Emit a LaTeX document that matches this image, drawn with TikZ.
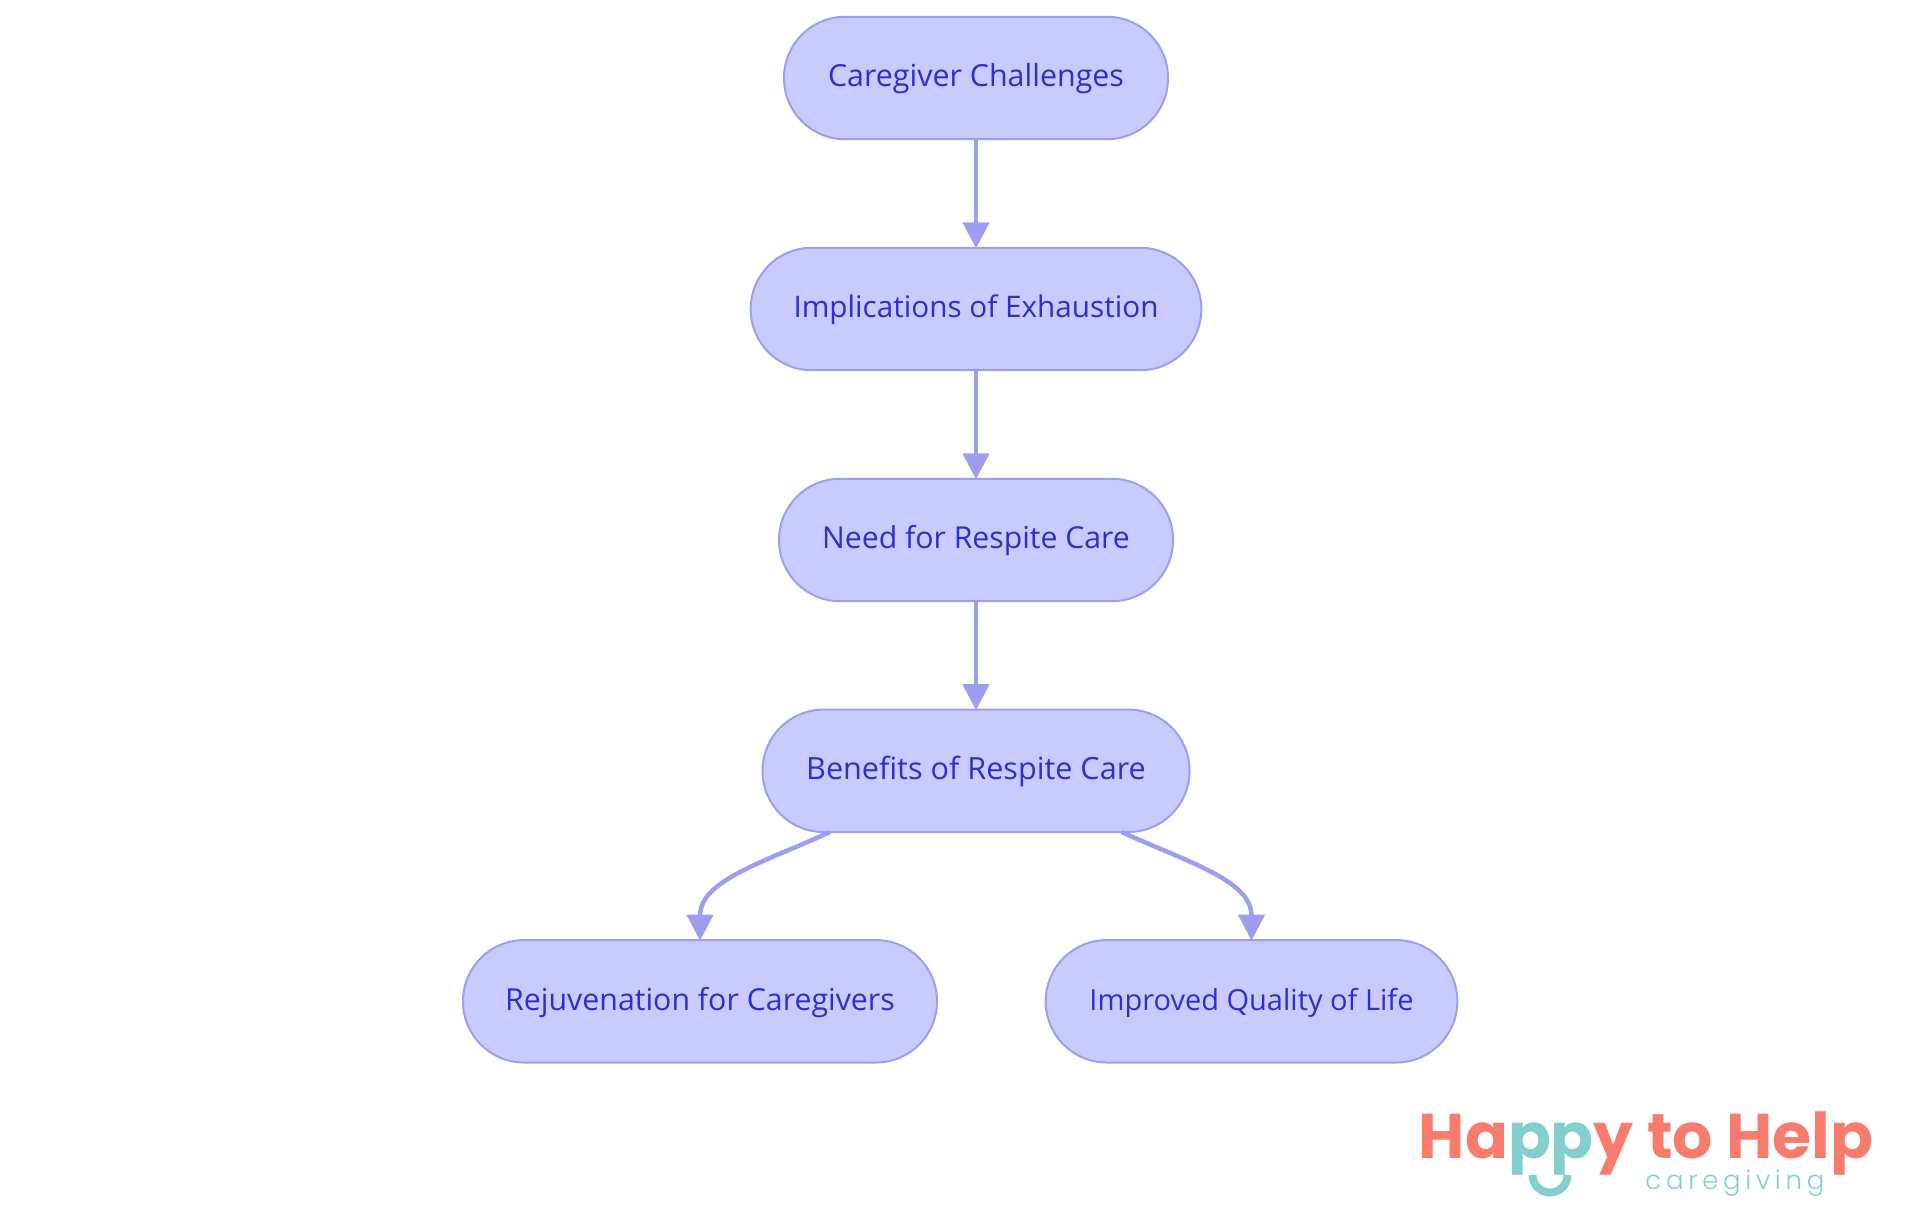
\documentclass[tikz,border=0pt]{standalone}
\usepackage{fontspec}
\setmainfont{Open Sans}
\newfontfamily\logofont{Poppins}[UprightFont=* Bold]
\newfontfamily\logolight{Poppins}[UprightFont=* Light,LetterSpace=18]
\usetikzlibrary{arrows.meta}
\definecolor{pillfill}{HTML}{C9CBFF}
\definecolor{pillline}{HTML}{9C9EF0}
\definecolor{pilltext}{HTML}{2E2ECF}
\definecolor{logocoral}{HTML}{F87C6E}
\definecolor{logoteal}{HTML}{83CFCD}
\tikzset{
  pill/.style 2 args={draw=pillline,fill=pillfill,line width=1pt,rounded corners=30.5pt,
    minimum height=61.2pt,minimum width=#1,inner sep=0pt,text=pilltext,
    font=\fontsize{#2}{16}\selectfont,text height=12.2pt,text depth=3.5pt},
  flow/.style={draw=pillline,line width=2.25pt,shorten >=-0.8pt,-{Triangle[length=13pt,width=13pt,fill=pillline]}}
}
\begin{document}
\begin{tikzpicture}[x=0.5pt,y=-0.5pt]
\useasboundingbox (0,0) rectangle (1920,1215);
\node[pill={192pt}{15.2}] (a) at (976,78) {Caregiver Challenges};
\node[pill={225.3pt}{14.85}] (b) at (976,309) {Implications of Exhaustion};
\node[pill={197pt}{15.1}] (c) at (976,540) {Need for Respite Care};
\node[pill={213.5pt}{15.3}] (d) at (976,770.8) {Benefits of Respite Care};
\node[pill={237pt}{15.15}] (e) at (700,1001.3) {Rejuvenation for Caregivers};
\node[pill={205.8pt}{14.5}] (f) at (1251.5,1001.3) {Improved Quality of Life};
\draw[flow] (a) -- (b);
\draw[flow] (b) -- (c);
\draw[flow] (c) -- (d);
\coordinate (dl) at (830,832);
\coordinate (dr) at (1121.6,832);
\draw[flow] (dl) .. controls (765,862) and (700,880) .. (e.north);
\draw[flow] (dr) .. controls (1187,862) and (1251.5,880) .. (f.north);
\node[inner sep=0pt,anchor=base west,text=logocoral,font=\logofont\fontsize{31.6}{30}\selectfont] (logo) at (1418.5,1158) {Ha\textcolor{logoteal}{pp}y to Help};
\node[inner sep=0pt,anchor=base west,text=logoteal,font=\logolight\fontsize{13}{16}\selectfont] (sub) at (1645,1189) {caregiving};
\draw[logoteal,line width=4pt] (1532.5,1175) arc[start angle=180,end angle=360,radius=8.75pt];
\end{tikzpicture}
\end{document}
